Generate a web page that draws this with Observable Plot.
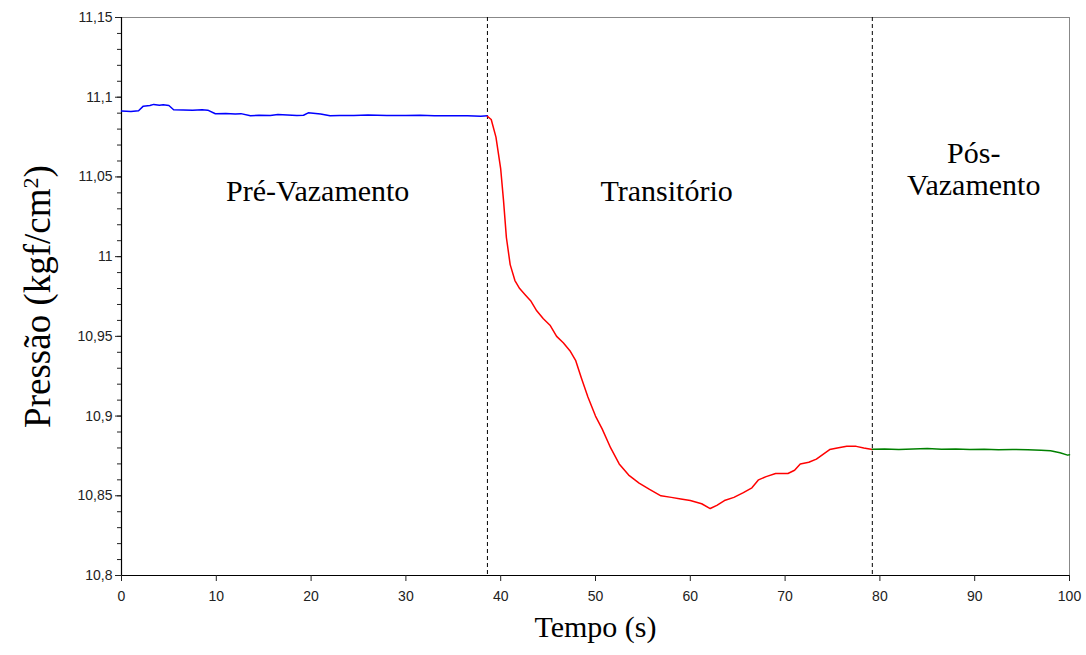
<!DOCTYPE html>
<html>
<head>
<meta charset="utf-8">
<script src="https://cdn.jsdelivr.net/npm/d3@7"></script>
<script src="https://cdn.jsdelivr.net/npm/@observablehq/plot@0.6"></script>
<style>
  html, body { margin: 0; padding: 0; background: #fff; }
  #chart { width: 1086px; height: 655px; }
</style>
</head>
<body>
<div id="chart"></div>
<script>
// ---- data ----
const preTime  = [0, 1.0, 1.8, 2.3, 3.0, 3.4, 4.0, 4.4, 5.0, 5.5, 6.5, 7.5, 8.5, 9.1, 9.9, 11.0, 12.0, 12.6, 13.6, 14.5, 15.7, 16.5, 17.5, 18.5, 19.2, 19.7, 21.0, 22.0, 23.0, 24.5, 26.0, 28.0, 30.0, 31.5, 33.0, 35.0, 36.5, 37.9, 38.6];
const preValue = [11.0913, 11.0911, 11.0915, 11.0944, 11.0948, 11.0955, 11.0950, 11.0953, 11.0948, 11.0921, 11.0920, 11.0918, 11.0921, 11.0919, 11.0896, 11.0898, 11.0894, 11.0897, 11.0884, 11.0887, 11.0886, 11.0891, 11.0889, 11.0886, 11.0887, 11.0902, 11.0895, 11.0884, 11.0886, 11.0885, 11.0888, 11.0886, 11.0885, 11.0887, 11.0884, 11.0883, 11.0883, 11.0880, 11.0883];

const transTime  = [38.6, 39.0, 39.5, 40.0, 40.3, 40.6, 41.0, 41.5, 42.0, 42.6, 43.2, 43.8, 44.5, 45.2, 45.9, 46.6, 47.3, 47.9, 48.5, 49.2, 50.0, 50.7, 51.6, 52.5, 53.5, 54.6, 55.7, 56.9, 58.0, 59.0, 60.0, 61.2, 62.1, 62.8, 63.6, 64.6, 65.6, 66.5, 67.2, 68.0, 69.0, 70.3, 71.0, 71.6, 72.5, 73.3, 74.0, 74.7, 75.5, 76.5, 77.5, 78.3, 79.2];
const transValue = [11.088, 11.086, 11.075, 11.055, 11.035, 11.012, 10.995, 10.985, 10.980, 10.976, 10.972, 10.966, 10.961, 10.957, 10.950, 10.946, 10.941, 10.935, 10.924, 10.912, 10.900, 10.892, 10.880, 10.870, 10.863, 10.858, 10.854, 10.850, 10.849, 10.848, 10.847, 10.845, 10.842, 10.844, 10.847, 10.849, 10.852, 10.855, 10.860, 10.862, 10.864, 10.864, 10.866, 10.870, 10.871, 10.873, 10.876, 10.879, 10.880, 10.881, 10.881, 10.880, 10.879];

const postTime  = [79.2, 80.5, 82.0, 83.5, 85.0, 86.5, 88.0, 89.5, 91.0, 92.5, 94.0, 95.6, 97.0, 98.0, 99.0, 99.8, 100];
const postValue = [10.8792, 10.8794, 10.8791, 10.8793, 10.8796, 10.8792, 10.8793, 10.8790, 10.8792, 10.8789, 10.8791, 10.8788, 10.8786, 10.8783, 10.8770, 10.8755, 10.8758];

const phaseBoundaries = [38.6, 79.2];

const phaseLabels = ["Pré-Vazamento", "Transitório", "Pós-\nVazamento"];
const phaseLabelTime = [20.7, 57.5, 89.9];
const phaseLabelValue = [11.0415, 11.0415, 11.0552];

const xTicks = [0, 10, 20, 30, 40, 50, 60, 70, 80, 90, 100];
const yTicks = [10.8, 10.85, 10.9, 10.95, 11, 11.05, 11.1, 11.15];
const yMinorTicks = d3.range(0, 36).map(i => +(10.8 + i * 0.01).toFixed(2));

const xTitle = "Tempo (s)";
const yTitle = "Pressão (kgf/cm²)";

// ---- build ----
const toRows = (t, v) => t.map((d, i) => ({t: d, v: v[i]}));
const pre = toRows(preTime, preValue);
const trans = toRows(transTime, transValue);
const post = toRows(postTime, postValue);
const labels = phaseLabels.map((s, i) => ({s, t: phaseLabelTime[i], v: phaseLabelValue[i]}));

const fmt = d => d3.format(".2~f")(d).replace(".", ",");
const serif = "'Liberation Serif', 'Times New Roman', serif";

const chart = Plot.plot({
  width: 1086,
  height: 655,
  marginLeft: 121,
  marginRight: 17,
  marginTop: 17,
  marginBottom: 80,
  style: {fontFamily: "'Liberation Sans', Arial, sans-serif", fontSize: "14px", color: "#222", background: "#fff"},
  x: {domain: [0, 100]},
  y: {domain: [10.8, 11.15]},
  marks: [
    Plot.frame({stroke: "#888"}),
    Plot.ruleX([0], {stroke: "#000", strokeWidth: 1.2}),
    Plot.ruleY([10.8], {stroke: "#000", strokeWidth: 1.2}),
    Plot.axisX({ticks: xTicks, tickSize: 6, tickPadding: 10, label: null, tickFormat: d => String(d)}),
    Plot.axisY({ticks: yMinorTicks, tickSize: 4, tickFormat: () => "", label: null}),
    Plot.axisY({ticks: yTicks, tickSize: 6, tickPadding: 3, label: null, tickFormat: fmt}),
    Plot.ruleX(phaseBoundaries, {stroke: "#000", strokeWidth: 1, strokeDasharray: "4,3"}),
    Plot.line(pre, {x: "t", y: "v", stroke: "#0000ff", strokeWidth: 1.5}),
    Plot.line(trans, {x: "t", y: "v", stroke: "#ff0000", strokeWidth: 1.5}),
    Plot.line(post, {x: "t", y: "v", stroke: "#008000", strokeWidth: 1.5}),
    Plot.text(labels, {x: "t", y: "v", text: "s", fontFamily: serif, fontSize: 30, fill: "#000", lineHeight: 1.07, textAnchor: "middle"}),
    Plot.text([xTitle], {frameAnchor: "bottom", dy: 61, fontFamily: serif, fontSize: 30, fill: "#000", textAnchor: "middle"}),
    Plot.text([yTitle], {frameAnchor: "left", dx: -83, rotate: -90, fontFamily: serif, fontSize: 37, fill: "#000", textAnchor: "middle", className: "ytitle"})
  ]
});

document.getElementById("chart").appendChild(chart);

// superscript "2" in the y title
d3.select(chart).selectAll("g.ytitle text").each(function() {
  const el = d3.select(this);
  el.text(null);
  el.append("tspan").text("Pressão (kgf/cm");
  el.append("tspan").attr("baseline-shift", "super").attr("font-size", "22").text("2");
  el.append("tspan").text(")");
});
</script>
</body>
</html>
